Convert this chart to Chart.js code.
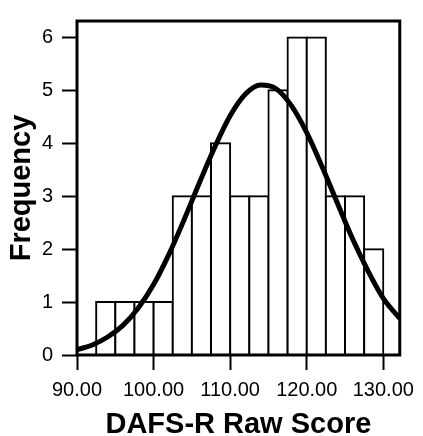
<!DOCTYPE html>
<html>
<head>
<meta charset="utf-8">
<script src="https://cdn.jsdelivr.net/npm/chart.js@4/dist/chart.umd.min.js"></script>
<style>
  html, body { margin: 0; padding: 0; background: #fff; }
  #wrap { width: 423px; height: 436px; }
</style>
</head>
<body>
<div id="wrap"><canvas id="histChart" width="423" height="436"></canvas></div>
<script>
// Histogram bins (centre of each 2.5-wide bin) and counts
const binCenters = [93.75, 96.25, 98.75, 101.25, 103.75, 106.25, 108.75, 111.25, 113.75, 116.25, 118.75, 121.25, 123.75, 126.25, 128.75];
const binCounts  = [1, 1, 1, 1, 3, 3, 4, 3, 3, 5, 6, 6, 3, 3, 2];

// Normal curve
const curveX = [90, 92, 94, 96, 98, 100, 102, 104, 106, 108, 110, 112, 114, 116, 118, 120, 122, 124, 126, 128, 130, 132.15];
const curveY = [0.10, 0.19, 0.34, 0.56, 0.89, 1.33, 1.90, 2.56, 3.26, 3.93, 4.52, 4.93, 5.10, 5.03, 4.71, 4.20, 3.56, 2.87, 2.19, 1.59, 1.07, 0.69];

// Axis ticks
const xTicks = [90, 100, 110, 120, 130];
const yTicks = [0, 1, 2, 3, 4, 5, 6];
const xMin = 90, xMax = 132.15;
const yMin = 0, yMax = 6.31;

const FONT = "'Liberation Sans', Arial, Helvetica, sans-serif";

// frame round the plot area
const frameBox = {
    id: 'frameBox',
    afterDraw(chart) {
        const a = chart.chartArea;
        const ctx = chart.ctx;
        ctx.save();
        ctx.strokeStyle = '#000';
        ctx.lineWidth = 3;
        ctx.strokeRect(a.left, a.top, a.right - a.left, a.bottom - a.top);
        ctx.restore();
    }
};

const ctx = document.getElementById('histChart').getContext('2d');
new Chart(ctx, {
    data: {
        datasets: [
            {
                type: 'line',
                data: curveX.map((x, i) => ({ x: x, y: curveY[i] })),
                borderColor: '#000',
                borderWidth: 5,
                pointRadius: 0,
                fill: false,
                cubicInterpolationMode: 'monotone',
                clip: 0,
                order: 0
            },
            {
                type: 'bar',
                data: binCenters.map((x, i) => ({ x: x, y: binCounts[i] })),
                backgroundColor: '#fff',
                borderColor: '#000',
                borderWidth: 2,
                inflateAmount: 1,
                barPercentage: 1,
                categoryPercentage: 1,
                order: 1
            }
        ]
    },
    options: {
        responsive: false,
        animation: false,
        events: [],
        layout: { padding: { top: 11, right: 22, left: 0, bottom: 0 } },
        plugins: {
            legend: { display: false },
            tooltip: { enabled: false }
        },
        scales: {
            x: {
                type: 'linear',
                min: xMin,
                max: xMax,
                offset: false,
                afterBuildTicks: s => { s.ticks = xTicks.map(v => ({ value: v })); },
                afterFit: s => { s.height = 81; },
                border: { display: false },
                grid: { offset: false, drawOnChartArea: false, drawTicks: true, tickLength: 15, tickColor: '#000', tickWidth: 2 },
                ticks: {
                    color: '#000',
                    padding: 8,
                    maxRotation: 0,
                    autoSkip: false,
                    font: { family: FONT, size: 20 },
                    callback: v => Number(v).toFixed(2)
                },
                title: {
                    display: true,
                    text: 'DAFS-R Raw Score',
                    color: '#000',
                    font: { family: FONT, size: 29, weight: 'bold', lineHeight: 0.76 },
                    padding: { top: 0, bottom: 0 }
                }
            },
            y: {
                type: 'linear',
                min: yMin,
                max: yMax,
                afterBuildTicks: s => { s.ticks = yTicks.map(v => ({ value: v })); },
                afterFit: s => { s.width = 77; },
                border: { display: false },
                grid: { drawOnChartArea: false, drawTicks: true, tickLength: 15, tickColor: '#000', tickWidth: 2 },
                ticks: {
                    color: '#000',
                    padding: 9,
                    font: { family: FONT, size: 20 },
                    callback: v => String(v)
                },
                title: {
                    display: true,
                    text: 'Frequency',
                    color: '#000',
                    font: { family: FONT, size: 29, weight: 'bold', lineHeight: 0.76 },
                    padding: { top: 11, bottom: 0 }
                }
            }
        }
    },
    plugins: [frameBox]
});
</script>
</body>
</html>
